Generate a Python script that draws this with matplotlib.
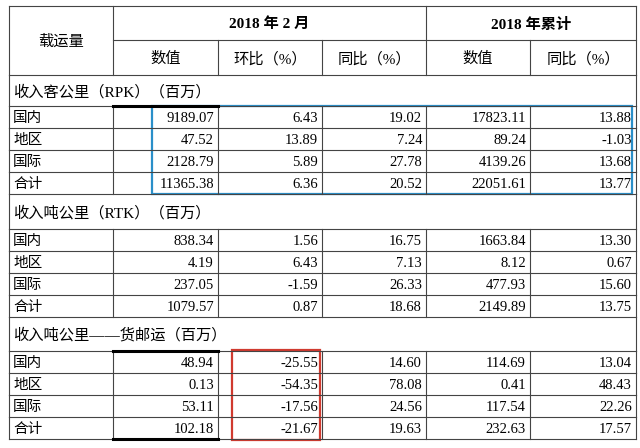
import matplotlib.pyplot as plt
from matplotlib.patches import Rectangle

plt.rcParams['font.family'] = ['Liberation Serif', 'Noto Sans CJK SC']

sections = ['收入客公里（RPK）（百万）', '收入吨公里（RTK）（百万）', '收入吨公里——货邮运（百万）']
regions = ['国内', '地区', '国际', '合计']
feb_value = [[9189.07, 47.52, 2128.79, 11365.38],
             [838.34, 4.19, 237.05, 1079.57],
             [48.94, 0.13, 53.11, 102.18]]
feb_mom = [[6.43, 13.89, 5.89, 6.36],
           [1.56, 6.43, -1.59, 0.87],
           [-25.55, -54.35, -17.56, -21.67]]
feb_yoy = [[19.02, 7.24, 27.78, 20.52],
           [16.75, 7.13, 26.33, 18.68],
           [14.60, 78.08, 24.56, 19.63]]
ytd_value = [[17823.11, 89.24, 4139.26, 22051.61],
             [1663.84, 8.12, 477.93, 2149.89],
             [114.69, 0.41, 117.54, 232.63]]
ytd_yoy = [[13.88, -1.03, 13.68, 13.77],
           [13.30, 0.67, 15.60, 13.75],
           [13.04, 48.43, 22.26, 17.57]]
sub_headers = ['数值', '环比（%）', '同比（%）', '数值', '同比（%）']

fig = plt.figure(figsize=(6.4, 4.48), dpi=100)
ax = fig.add_axes([0, 0, 1, 1])
ax.set_xlim(0, 640)
ax.set_ylim(448, 0)
ax.axis('off')

xs = [9, 113, 218, 322, 426, 530, 636]
lc = '#444444'
lw = 0.8

def hline(y, x0=xs[0], x1=xs[-1], **kw):
    ax.plot([x0, x1], [y, y], color=kw.get('c', lc), lw=kw.get('w', lw))

def vline(x, y0, y1):
    ax.plot([x, x], [y0, y1], color=lc, lw=lw)

# header
top, mid, hb = 6, 40, 75
hline(top); hline(mid, xs[1]); hline(hb)
for i, x in enumerate(xs):
    if i in (2, 3, 5):
        vline(x, mid, hb)
    else:
        vline(x, top, hb)
ax.text((xs[0] + xs[1]) / 2, (top + hb) / 2, '载运量', ha='center', va='center_baseline', fontsize=11)
ax.text((xs[1] + xs[4]) / 2, (top + mid) / 2, '2018 年 2 月', ha='center', va='center_baseline', fontsize=11, fontweight='bold')
ax.text((xs[4] + xs[6]) / 2, (top + mid) / 2, '2018 年累计', ha='center', va='center_baseline', fontsize=11, fontweight='bold')
for i, h in enumerate(sub_headers):
    ax.text((xs[i + 1] + xs[i + 2]) / 2, (mid + hb) / 2, h, ha='center', va='center_baseline', fontsize=11)

sec_tops = [75, 194, 317]
row_h = 22
sec_h = [31, 35, 34]
for s, name in enumerate(sections):
    y0 = sec_tops[s]
    y1 = y0 + sec_h[s]
    vline(xs[0], y0, y1); vline(xs[-1], y0, y1)
    hline(y1)
    ax.text(xs[0] + 4, (y0 + y1) / 2, name, ha='left', va='center_baseline', fontsize=11)
    cols = [feb_value[s], feb_mom[s], feb_yoy[s], ytd_value[s], ytd_yoy[s]]
    for r, reg in enumerate(regions):
        ry = y1 + r * row_h
        hline(ry + row_h)
        for x in xs:
            vline(x, ry, ry + row_h)
        ax.text(xs[0] + 4, ry + row_h / 2, reg, ha='left', va='center_baseline', fontsize=10.5)
        for c, col in enumerate(cols):
            ax.text(xs[c + 2] - 4, ry + row_h / 2, f'{col[r]:.2f}', ha='right', va='center_baseline', fontsize=10.5)
    if s != 1:
        hline(y1, xs[1], xs[2], w=2.2, c='black')
    if s == 2:
        hline(y1 + 4 * row_h, xs[1], xs[2], w=2.2, c='black')

ax.add_patch(Rectangle((152, 106), 480, 88, fill=False, ec='#2a8fc9', lw=1.6))
ax.add_patch(Rectangle((232, 350), 88, 90, fill=False, ec='#d03a2f', lw=1.6))

fig.savefig('out.png', dpi=100)
